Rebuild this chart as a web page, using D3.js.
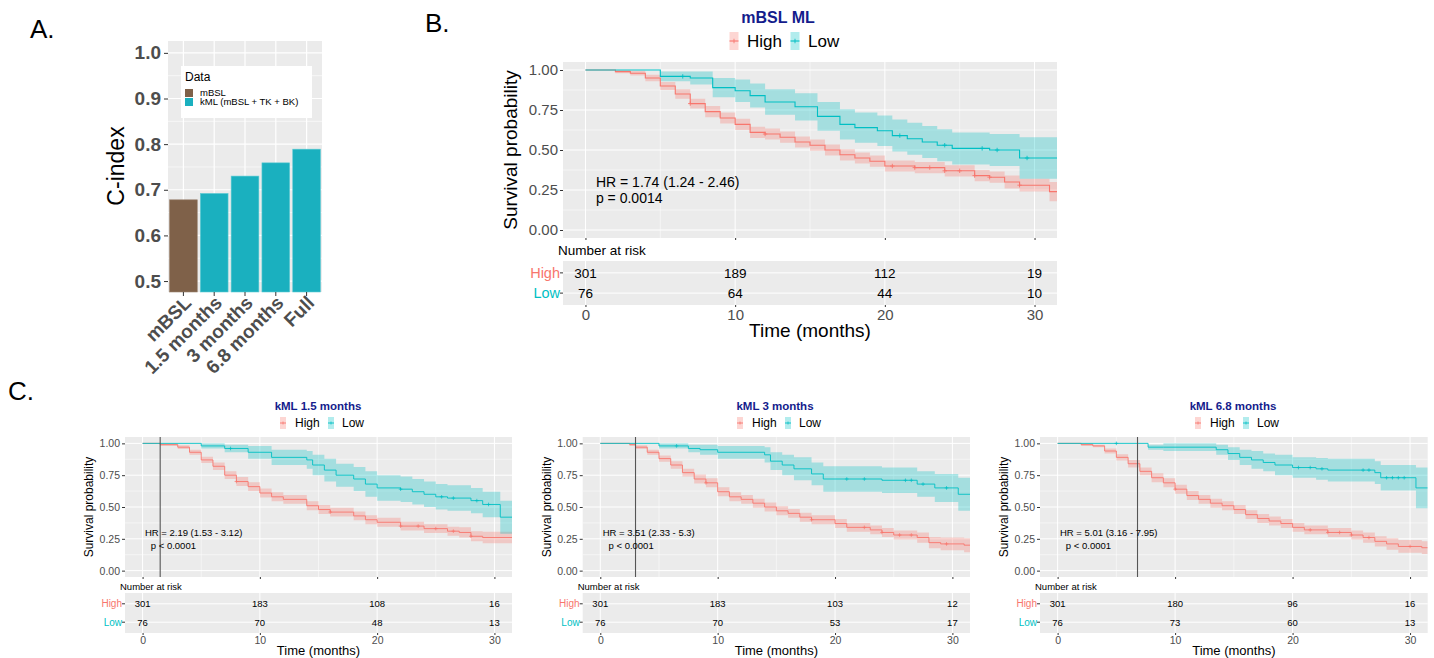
<!DOCTYPE html>
<html>
<head>
<meta charset="utf-8">
<script src="https://cdn.jsdelivr.net/npm/d3@7"></script>
<style>
body { margin: 0; background: #fff; }
svg { font-family: "Liberation Sans", Arial, sans-serif; }
</style>
</head>
<body>
<svg width="1434" height="658"></svg>
<script>
// ---- panel A data ----
var models = ["mBSL", "1.5 months", "3 months", "6.8 months", "Full"];
var cindex = [0.678, 0.692, 0.730, 0.759, 0.789];
var modelGroup = ["mBSL", "kML", "kML", "kML", "kML"];
var groupLabels = ["mBSL", "kML (mBSL + TK + BK)"];

// ---- survival data: step times, survival, CI half width ----
var bHighT = [0, 2, 3, 4, 5, 6, 7, 8, 9, 10, 11, 12, 13, 14, 15, 16, 17, 18, 19, 20, 22, 24, 26, 27, 28, 29, 31, 31.5];
var bHighS = [1, .99, .98, .95, .90, .85, .79, .74, .70, .66, .61, .60, .58, .55, .53, .50, .47, .45, .43, .40, .39, .37, .34, .33, .30, .28, .24, .24];
var bHighH = [0, .01, .015, .02, .025, .03, .03, .035, .035, .035, .035, .035, .035, .035, .035, .035, .035, .035, .035, .035, .035, .035, .035, .035, .04, .04, .06, .06];
var bLowT = [0, 5, 7, 8.5, 10, 11, 12, 14, 15.5, 17, 18, 19.5, 20.5, 21.5, 22.5, 23.5, 24.5, 27, 29, 31.5];
var bLowS = [1, .96, .95, .89, .87, .84, .80, .77, .71, .66, .64, .62, .59, .57, .55, .53, .51, .50, .45, .45];
var bLowH = [0, .03, .04, .06, .07, .075, .08, .085, .09, .095, .095, .095, .1, .1, .1, .1, .1, .1, .13, .14];
var bCens = [[7, 12, 20.5, 22, 23, 24, 25, 26, 27, 29], [6.5, 21, 24, 26.5, 27.5, 29.5]];

var c1HighT = [0, 1.5, 3, 4, 5, 6, 7, 8, 9, 10, 11, 12, 14, 15, 16, 18, 19, 20, 22, 24, 26, 27, 28, 29, 31.5];
var c1HighS = [1, .99, .97, .93, .87, .82, .75, .70, .66, .61, .58, .56, .51, .48, .46, .43, .40, .38, .35, .33, .31, .30, .27, .26, .26];
var c1HighH = [0, .01, .015, .02, .025, .03, .03, .035, .035, .035, .035, .035, .035, .035, .035, .035, .035, .035, .035, .035, .035, .04, .04, .045, .045];
var c1LowT = [0, 5, 7, 9, 11, 14, 14.5, 15.5, 16.5, 18, 19, 20, 22, 23, 24, 25, 26, 28, 29, 30.5, 31.5];
var c1LowS = [1, .98, .96, .93, .89, .87, .83, .79, .75, .72, .68, .65, .64, .62, .60, .58, .57, .55, .52, .42, .42];
var c1LowH = [0, .02, .03, .05, .06, .07, .08, .09, .09, .095, .1, .1, .1, .1, .1, .1, .1, .1, .1, .13, .13];
var c1Cens = [[8, 16, 22, 23.5, 25, 26.5, 28], [7.5, 22, 25.5, 26.5, 28.5, 29.5]];

var c2HighT = [0, 2.5, 3, 4, 5, 6, 7, 8, 9, 10, 11, 12, 13, 14, 15, 16, 17, 18, 20, 21, 23, 24, 25, 27, 28, 29, 31, 31.5];
var c2HighS = [1, .99, .97, .93, .88, .83, .77, .72, .69, .62, .58, .56, .53, .50, .47, .45, .42, .40, .37, .34, .32, .30, .28, .26, .22, .21, .20, .20];
var c2HighH = [0, .01, .015, .02, .025, .03, .03, .035, .035, .035, .035, .035, .035, .035, .035, .035, .035, .035, .035, .035, .035, .035, .035, .04, .045, .05, .055, .055];
var c2LowT = [0, 5, 7.5, 8.5, 10, 14, 14.5, 15.5, 16.5, 18, 19, 24, 27, 28.5, 30.5, 31.5];
var c2LowS = [1, .98, .96, .95, .93, .91, .86, .83, .80, .76, .72, .71, .68, .65, .60, .60];
var c2LowH = [0, .02, .03, .04, .05, .06, .07, .08, .09, .09, .1, .1, .1, .11, .13, .13];
var c2Cens = [[9, 18, 22.5, 24, 25.5, 26.5, 29.5], [6.5, 21, 22.5, 26, 26.5, 27.5, 29.5]];

var c3HighT = [0, 2, 3, 4, 5, 6, 7, 8, 9, 10, 11, 12, 13, 14, 15, 16, 17, 18, 19, 20, 21, 23, 25, 26, 27, 28, 29, 31, 31.5];
var c3HighS = [1, .99, .98, .94, .89, .84, .78, .73, .69, .64, .59, .56, .53, .51, .48, .44, .41, .39, .37, .34, .32, .30, .28, .26, .23, .21, .19, .18, .18];
var c3HighH = [0, .01, .01, .02, .025, .03, .03, .035, .035, .035, .035, .035, .035, .035, .035, .035, .035, .035, .035, .035, .035, .035, .035, .04, .04, .045, .05, .05, .05];
var c3LowT = [0, 7.7, 9, 13.5, 14.5, 15.5, 16.5, 17.5, 18.5, 20, 22, 23, 27, 27.5, 30.5, 31.5];
var c3LowS = [1, .97, .97, .95, .92, .89, .87, .85, .83, .81, .80, .79, .77, .73, .65, .65];
var c3LowH = [0, .02, .03, .04, .05, .06, .07, .07, .08, .08, .085, .09, .09, .1, .16, .16];
var c3Cens = [[10, 21.5, 23, 24, 25, 26.5, 30], [5, 20.5, 21.5, 22.5, 26, 26.5, 28, 28.5, 29, 29.5]];

var riskTimes = [0, 10, 20, 30];
var bRiskHigh = [301, 189, 112, 19], bRiskLow = [76, 64, 44, 10];
var c1RiskHigh = [301, 183, 108, 16], c1RiskLow = [76, 70, 48, 13];
var c2RiskHigh = [301, 183, 103, 12], c2RiskLow = [76, 70, 53, 17];
var c3RiskHigh = [301, 180, 96, 16], c3RiskLow = [76, 73, 60, 13];

var red = "#f8766d", teal = "#00bfc4";
var svg = d3.select("svg");

// panel letters
[["A.", 30, 38], ["B.", 425, 32], ["C.", 8, 400]].forEach(function(l) {
    svg.append("text").attr("x", l[1]).attr("y", l[2]).style("font-size", "26px").text(l[0]);
});

// ================= panel A =================
var aX = d3.scaleBand().domain(models).range([168, 322]).paddingInner(0.1).paddingOuter(0.05);
var aY = d3.scaleLinear().domain([0.476, 1.026]).range([292, 41]);
var ga = svg.append("g");
ga.append("rect").attr("x", 168).attr("y", 41).attr("width", 154).attr("height", 251).attr("fill", "#ebebeb");
d3.range(0.55, 1.0, 0.1).forEach(function(v) {
    ga.append("line").attr("x1", 168).attr("x2", 322).attr("y1", aY(v)).attr("y2", aY(v)).attr("stroke", "#fff").attr("stroke-width", 0.6);
});
[0.5, 0.6, 0.7, 0.8, 0.9, 1.0].forEach(function(v) {
    ga.append("line").attr("x1", 168).attr("x2", 322).attr("y1", aY(v)).attr("y2", aY(v)).attr("stroke", "#fff").attr("stroke-width", 1.2);
});
models.forEach(function(m) {
    var cx = aX(m) + aX.bandwidth() / 2;
    ga.append("line").attr("x1", cx).attr("x2", cx).attr("y1", 41).attr("y2", 292).attr("stroke", "#fff").attr("stroke-width", 1.2);
});
ga.selectAll(".bar").data(models).enter().append("rect")
    .attr("x", function(d) { return aX(d); })
    .attr("width", aX.bandwidth())
    .attr("y", function(d, i) { return aY(cindex[i]); })
    .attr("height", function(d, i) { return 292 - aY(cindex[i]); })
    .attr("fill", function(d, i) { return modelGroup[i] == "mBSL" ? "#7f6149" : "#1ab0bf"; })
    .attr("stroke", function(d, i) { return modelGroup[i] == "mBSL" ? "#9c8470" : "#5fcbd4"; })
    .attr("stroke-width", 0.6);
var aya = ga.append("g").attr("transform", "translate(168,0)")
    .call(d3.axisLeft(aY).tickValues([0.5, 0.6, 0.7, 0.8, 0.9, 1.0]).tickFormat(d3.format(".1f")).tickSize(4).tickPadding(3));
aya.select(".domain").remove();
aya.selectAll("line").attr("stroke", "#333");
aya.selectAll("text").style("font-size", "19px").style("font-weight", "bold").attr("fill", "#4d4d4d");
var axa = ga.append("g").attr("transform", "translate(0,292)")
    .call(d3.axisBottom(aX).tickSize(4));
axa.select(".domain").remove();
axa.selectAll("line").attr("stroke", "#333");
axa.selectAll("text").style("font-size", "19px").style("font-weight", "bold").attr("fill", "#4d4d4d")
    .attr("text-anchor", "end").attr("y", 0).attr("dy", 0).attr("transform", "translate(9,12) rotate(-45)");
ga.append("text").attr("transform", "translate(124,166) rotate(-90)").attr("text-anchor", "middle")
    .style("font-size", "23px").text("C-index");
// legend
ga.append("rect").attr("x", 181).attr("y", 66).attr("width", 131).attr("height", 52).attr("fill", "#fff");
ga.append("text").attr("x", 185).attr("y", 81).style("font-size", "12px").text("Data");
groupLabels.forEach(function(g, i) {
    ga.append("rect").attr("x", 185).attr("y", 89 + i * 9).attr("width", 8).attr("height", 8)
        .attr("fill", i == 0 ? "#7f6149" : "#1ab0bf");
    ga.append("text").attr("x", 200).attr("y", 96 + i * 9).style("font-size", "9.5px").text(g);
});

// ================= KM panels =================
function drawKM(c) {
    var g = svg.append("g");
    var x = d3.scaleLinear().domain([-1.5, 31.5]).range([c.left, c.right]);
    var y = d3.scaleLinear().domain([-0.05, 1.05]).range([c.bottom, c.top]);
    var f = c.fs;
    g.append("rect").attr("x", c.left).attr("y", c.top).attr("width", c.right - c.left).attr("height", c.bottom - c.top).attr("fill", "#ebebeb");
    [0.125, 0.375, 0.625, 0.875].forEach(function(v) {
        g.append("line").attr("x1", c.left).attr("x2", c.right).attr("y1", y(v)).attr("y2", y(v)).attr("stroke", "#fff").attr("stroke-width", 0.5);
    });
    [5, 15, 25].forEach(function(v) {
        g.append("line").attr("x1", x(v)).attr("x2", x(v)).attr("y1", c.top).attr("y2", c.bottom).attr("stroke", "#fff").attr("stroke-width", 0.5);
    });
    [0, 0.25, 0.5, 0.75, 1].forEach(function(v) {
        g.append("line").attr("x1", c.left).attr("x2", c.right).attr("y1", y(v)).attr("y2", y(v)).attr("stroke", "#fff").attr("stroke-width", 1);
    });
    riskTimes.forEach(function(v) {
        g.append("line").attr("x1", x(v)).attr("x2", x(v)).attr("y1", c.top).attr("y2", c.bottom).attr("stroke", "#fff").attr("stroke-width", 1);
    });
    var clip = "clip" + c.id;
    g.append("clipPath").attr("id", clip).append("rect").attr("x", c.left).attr("y", c.top).attr("width", c.right - c.left).attr("height", c.bottom - c.top);
    var plot = g.append("g").attr("clip-path", "url(#" + clip + ")");
    c.series.forEach(function(s) {
        var pts = s.t.map(function(t, i) { return { t: t, s: s.s[i], h: s.h[i] }; });
        var area = d3.area().curve(d3.curveStepAfter)
            .x(function(d) { return x(d.t); })
            .y0(function(d) { return y(Math.max(0, d.s - d.h)); })
            .y1(function(d) { return y(Math.min(1, d.s + d.h)); });
        plot.append("path").datum(pts).attr("d", area).attr("fill", s.col).attr("opacity", 0.3);
    });
    c.series.forEach(function(s) {
        var pts = s.t.map(function(t, i) { return { t: t, s: s.s[i] }; });
        var line = d3.line().curve(d3.curveStepAfter).x(function(d) { return x(d.t); }).y(function(d) { return y(d.s); });
        plot.append("path").datum(pts).attr("d", line).attr("fill", "none").attr("stroke", s.col).attr("stroke-width", c.lw);
        s.cens.forEach(function(t) {
            var i = d3.bisectRight(s.t, t) - 1;
            var cy = y(s.s[i]), cx = x(t), k = c.lw * 2;
            plot.append("path").attr("d", "M" + (cx - k) + "," + cy + "H" + (cx + k) + "M" + cx + "," + (cy - k) + "V" + (cy + k))
                .attr("stroke", s.col).attr("stroke-width", c.lw * 0.8);
        });
    });
    if (c.vline != null) {
        g.append("line").attr("x1", x(c.vline)).attr("x2", x(c.vline)).attr("y1", c.top).attr("y2", c.bottom).attr("stroke", "#555").attr("stroke-width", 1.1);
    }
    var ya = g.append("g").attr("transform", "translate(" + c.left + ",0)")
        .call(d3.axisLeft(y).tickValues([0, 0.25, 0.5, 0.75, 1]).tickFormat(d3.format(".2f")).tickSize(3).tickPadding(2));
    ya.select(".domain").remove();
    ya.selectAll("line").attr("stroke", "#333");
    ya.selectAll("text").style("font-size", f.tick + "px").attr("fill", "#4d4d4d");
    var xa = g.append("g").attr("transform", "translate(0," + c.bottom + ")")
        .call(d3.axisBottom(x).tickValues(riskTimes).tickSize(2).tickFormat(""));
    xa.select(".domain").remove();
    xa.selectAll("line").attr("stroke", "#333");
    g.append("text").attr("transform", "translate(" + c.ylabX + "," + (c.top + c.bottom) / 2 + ") rotate(-90)")
        .attr("text-anchor", "middle").attr("dy", "0.35em").style("font-size", f.ylab + "px").text("Survival probability");
    g.append("text").attr("x", x(c.hrX)).attr("y", y(0.30)).attr("dy", "0.35em").style("font-size", f.hr + "px").text(c.hr);
    g.append("text").attr("x", x(c.pX)).attr("y", y(0.20)).attr("dy", "0.35em").style("font-size", f.hr + "px").text(c.p);
    // title + legend
    g.append("text").attr("x", c.titleX).attr("y", c.titleY).attr("text-anchor", "middle").style("font-size", f.title + "px")
        .style("font-weight", "bold").attr("fill", "#141c8c").text(c.title);
    c.series.forEach(function(s, i) {
        var kx = c.titleX + c.leg[i * 2], tx = c.titleX + c.leg[i * 2 + 1];
        g.append("rect").attr("x", kx - c.key / 2).attr("y", c.legY - c.key).attr("width", c.key).attr("height", c.key * 2)
            .attr("fill", s.col).attr("opacity", 0.3);
        g.append("line").attr("x1", kx - c.key / 2).attr("x2", kx + c.key / 2).attr("y1", c.legY).attr("y2", c.legY).attr("stroke", s.col).attr("stroke-width", c.lw);
        g.append("line").attr("x1", kx).attr("x2", kx).attr("y1", c.legY - c.key / 4).attr("y2", c.legY + c.key / 4).attr("stroke", s.col).attr("stroke-width", c.lw * 0.8);
        g.append("text").attr("x", tx).attr("y", c.legY).attr("dy", "0.35em").style("font-size", f.leg + "px").text(s.name);
    });
    // risk table
    g.append("text").attr("x", c.left - 5).attr("y", c.narY).attr("dy", "0.35em").style("font-size", f.risk + "px").text("Number at risk");
    g.append("rect").attr("x", c.left).attr("y", c.rTop).attr("width", c.right - c.left).attr("height", c.rBot - c.rTop).attr("fill", "#ebebeb");
    var ry = d3.scalePoint().domain([0, 1]).range([c.rTop + (c.rBot - c.rTop) * 0.27, c.rBot - (c.rBot - c.rTop) * 0.27]);
    [0, 1].forEach(function(r) {
        g.append("line").attr("x1", c.left).attr("x2", c.right).attr("y1", ry(r)).attr("y2", ry(r)).attr("stroke", "#fff").attr("stroke-width", 1);
    });
    riskTimes.forEach(function(v) {
        g.append("line").attr("x1", x(v)).attr("x2", x(v)).attr("y1", c.rTop).attr("y2", c.rBot).attr("stroke", "#fff").attr("stroke-width", 1);
    });
    c.series.forEach(function(s, r) {
        g.append("text").attr("x", c.left - 3).attr("y", ry(r)).attr("dy", "0.35em").attr("text-anchor", "end")
            .style("font-size", f.rlab + "px").attr("fill", s.col).text(s.name);
        g.append("line").attr("x1", c.left - 3).attr("x2", c.left).attr("y1", ry(r)).attr("y2", ry(r)).attr("stroke", "#333");
        s.risk.forEach(function(n, i) {
            g.append("text").attr("x", x(riskTimes[i])).attr("y", ry(r)).attr("dy", "0.35em").attr("text-anchor", "middle")
                .style("font-size", f.risk + "px").text(n);
        });
    });
    var xa2 = g.append("g").attr("transform", "translate(0," + c.rBot + ")")
        .call(d3.axisBottom(x).tickValues(riskTimes).tickSize(2).tickPadding(2));
    xa2.select(".domain").remove();
    xa2.selectAll("line").attr("stroke", "#333");
    xa2.selectAll("text").style("font-size", f.tick + "px").attr("fill", "#4d4d4d");
    g.append("text").attr("x", (c.left + c.right) / 2).attr("y", c.xlabY).attr("text-anchor", "middle")
        .style("font-size", f.xlab + "px").text("Time (months)");
}

var bigF = { tick: 15, ylab: 19, hr: 14, title: 16, leg: 17, risk: 13.5, rlab: 14.5, xlab: 19 };
var smallF = { tick: 10.5, ylab: 12, hr: 9.5, title: 11.5, leg: 12, risk: 9.5, rlab: 10, xlab: 13 };

drawKM({ id: "b", left: 563, right: 1057, top: 62, bottom: 238, rTop: 261, rBot: 305, narY: 250, xlabY: 337, ylabX: 510,
    titleX: 778, titleY: 23, legY: 41, leg: [-44, -31, 17, 30], key: 9, lw: 1.1, fs: bigF, vline: null,
    title: "mBSL ML", hr: "HR = 1.74 (1.24 - 2.46)", p: "p = 0.0014", hrX: 0.7, pX: 0.7,
    series: [{ name: "High", col: red, t: bHighT, s: bHighS, h: bHighH, cens: bCens[0], risk: bRiskHigh },
             { name: "Low", col: teal, t: bLowT, s: bLowS, h: bLowH, cens: bCens[1], risk: bRiskLow }] });

var smallPanels = [
    { id: "c1", left: 125, right: 512, titleX: 318, title: "kML 1.5 months", vline: 1.5,
      hr: "HR = 2.19 (1.53 - 3.12)", d: [c1HighT, c1HighS, c1HighH, c1Cens, c1RiskHigh, c1LowT, c1LowS, c1LowH, c1RiskLow] },
    { id: "c2", left: 582.7, right: 970, titleX: 775, title: "kML 3 months", vline: 3,
      hr: "HR = 3.51 (2.33 - 5.3)", d: [c2HighT, c2HighS, c2HighH, c2Cens, c2RiskHigh, c2LowT, c2LowS, c2LowH, c2RiskLow] },
    { id: "c3", left: 1040, right: 1427.7, titleX: 1233, title: "kML 6.8 months", vline: 6.8,
      hr: "HR = 5.01 (3.16 - 7.95)", d: [c3HighT, c3HighS, c3HighH, c3Cens, c3RiskHigh, c3LowT, c3LowS, c3LowH, c3RiskLow] }
];
smallPanels.forEach(function(p) {
    drawKM({ id: p.id, left: p.left, right: p.right, top: 437, bottom: 577, rTop: 593, rBot: 633, narY: 587, xlabY: 655, ylabX: p.left - 36,
        titleX: p.titleX, titleY: 410, legY: 423, leg: [-35, -23, 13, 24], key: 6, lw: 0.9, fs: smallF, vline: p.vline,
        title: p.title, hr: p.hr, p: "p < 0.0001", hrX: 0.2, pX: 0.7,
        series: [{ name: "High", col: red, t: p.d[0], s: p.d[1], h: p.d[2], cens: p.d[3][0], risk: p.d[4] },
                 { name: "Low", col: teal, t: p.d[5], s: p.d[6], h: p.d[7], cens: p.d[3][1], risk: p.d[8] }] });
});
</script>
</body>
</html>
